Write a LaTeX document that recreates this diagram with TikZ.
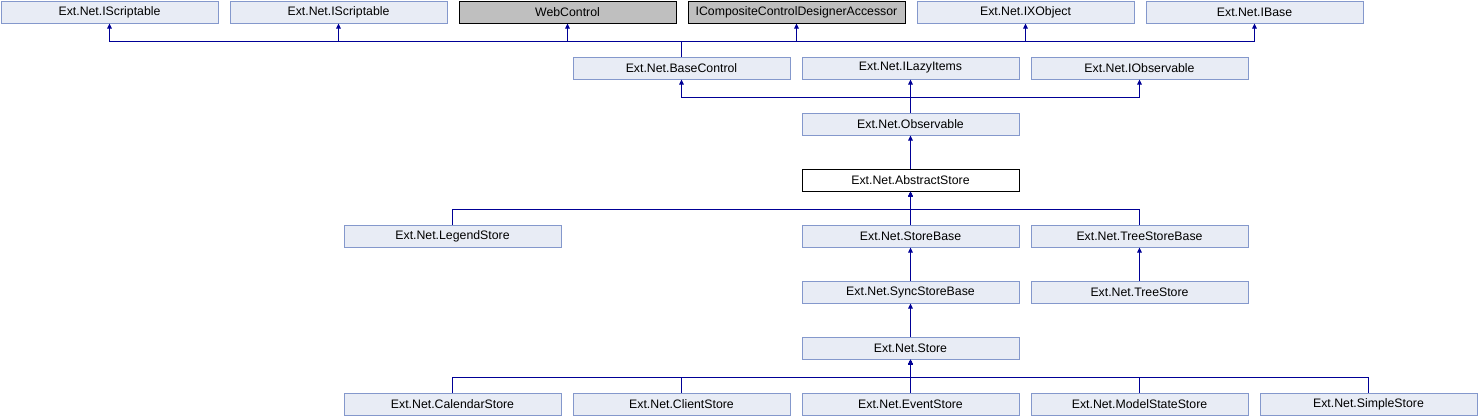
\documentclass[tikz,border=0pt]{standalone}
\usepackage{fontspec}
\setmainfont{Liberation Sans}
\usetikzlibrary{calc,arrows.meta}
\definecolor{edgeblue}{RGB}{0,0,150}
\definecolor{boxfill}{RGB}{232,236,245}
\definecolor{boxline}{RGB}{132,152,204}
\definecolor{externfill}{RGB}{191,191,191}
\tikzset{
    class box/.style={
        draw=boxline,
        fill=boxfill,
        line width=1pt,
        minimum width=217pt,
        minimum height=22pt,
        inner sep=0pt,
        anchor=north west,
        font=\fontsize{12.3}{14}\selectfont
    },
    extern box/.style={class box, draw=black, fill=externfill},
    focus box/.style={class box, draw=black, fill=white},
    inherit line/.style={
        line width=1pt,
        edgeblue,
        -{Triangle[length=5pt,width=4.5pt]}
    }
}

\begin{document}
\begin{tikzpicture}[x=1pt,y=-1pt]
    \useasboundingbox (0,0) rectangle (1478,416);
    \node[class box] (scr1) at (0.5,0.5) {Ext.Net.IScriptable};
    \node[class box] (scr2) at (229.5,0.5) {Ext.Net.IScriptable};
    \node[extern box] (webctl) at (458.5,0.5) {WebControl};
    \node[extern box] (ccda) at (687.5,0.5) {ICompositeControlDesignerAccessor};
    \node[class box] (ixobj) at (916.5,0.5) {Ext.Net.IXObject};
    \node[class box] (ibase) at (1145.5,0.5) {Ext.Net.IBase};
    \node[class box] (basectl) at (572.5,56.5) {Ext.Net.BaseControl};
    \node[class box] (ilazy) at (801.5,56.5) {Ext.Net.ILazyItems};
    \node[class box] (iobs) at (1030.5,56.5) {Ext.Net.IObservable};
    \node[class box] (observable) at (801.5,112.5) {Ext.Net.Observable};
    \node[focus box] (abstract) at (801.5,168.5) {Ext.Net.AbstractStore};
    \node[class box] (legend) at (343.5,224.5) {Ext.Net.LegendStore};
    \node[class box] (storebase) at (801.5,224.5) {Ext.Net.StoreBase};
    \node[class box] (treebase) at (1030.5,224.5) {Ext.Net.TreeStoreBase};
    \node[class box] (syncbase) at (801.5,280.5) {Ext.Net.SyncStoreBase};
    \node[class box] (treestore) at (1030.5,280.5) {Ext.Net.TreeStore};
    \node[class box] (store) at (801.5,336.5) {Ext.Net.Store};
    \node[class box] (calendar) at (343.5,392.5) {Ext.Net.CalendarStore};
    \node[class box] (client) at (572.5,392.5) {Ext.Net.ClientStore};
    \node[class box] (event) at (801.5,392.5) {Ext.Net.EventStore};
    \node[class box] (modelstate) at (1030.5,392.5) {Ext.Net.ModelStateStore};
    \node[class box] (simple) at (1259.5,392.5) {Ext.Net.SimpleStore};

    \draw[inherit line] (basectl.north) |- ($(scr1.south)+(0,18)$) -- (scr1.south);
    \draw[inherit line] (basectl.north) |- ($(scr2.south)+(0,18)$) -- (scr2.south);
    \draw[inherit line] (basectl.north) |- ($(webctl.south)+(0,18)$) -- (webctl.south);
    \draw[inherit line] (basectl.north) |- ($(ccda.south)+(0,18)$) -- (ccda.south);
    \draw[inherit line] (basectl.north) |- ($(ixobj.south)+(0,18)$) -- (ixobj.south);
    \draw[inherit line] (basectl.north) |- ($(ibase.south)+(0,18)$) -- (ibase.south);
    \draw[inherit line] (observable.north) |- ($(basectl.south)+(0,18)$) -- (basectl.south);
    \draw[inherit line] (observable.north) -- (ilazy.south);
    \draw[inherit line] (observable.north) |- ($(iobs.south)+(0,18)$) -- (iobs.south);
    \draw[inherit line] (abstract.north) -- (observable.south);
    \draw[inherit line] (legend.north) |- ($(abstract.south)+(0,18)$) -- (abstract.south);
    \draw[inherit line] (storebase.north) -- (abstract.south);
    \draw[inherit line] (treebase.north) |- ($(abstract.south)+(0,18)$) -- (abstract.south);
    \draw[inherit line] (syncbase.north) -- (storebase.south);
    \draw[inherit line] (treestore.north) -- (treebase.south);
    \draw[inherit line] (store.north) -- (syncbase.south);
    \draw[inherit line] (calendar.north) |- ($(store.south)+(0,18)$) -- (store.south);
    \draw[inherit line] (client.north) |- ($(store.south)+(0,18)$) -- (store.south);
    \draw[inherit line] (event.north) -- (store.south);
    \draw[inherit line] (modelstate.north) |- ($(store.south)+(0,18)$) -- (store.south);
    \draw[inherit line] (simple.north) |- ($(store.south)+(0,18)$) -- (store.south);
\end{tikzpicture}
\end{document}
